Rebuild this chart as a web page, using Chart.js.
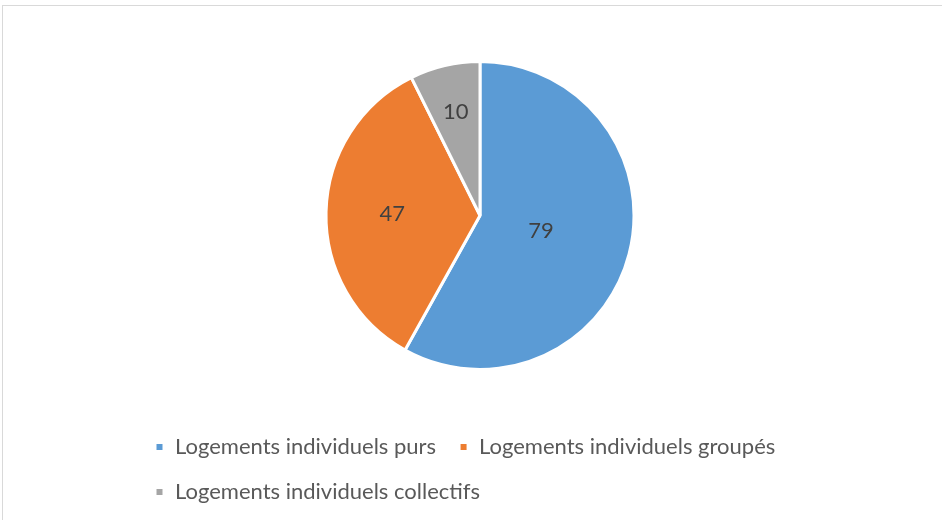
<!DOCTYPE html>
<html>
<head>
<meta charset="utf-8">
<script src="https://cdn.jsdelivr.net/npm/chart.js@4/dist/chart.umd.min.js"></script>
<style>
  html, body { margin: 0; padding: 0; background: #fff; }
  #frame {
    position: absolute; left: 2px; top: 5px; width: 960px; height: 540px;
    border-left: 1px solid #d9d9d9; border-top: 1px solid #d9d9d9;
  }
  #wrap { position: absolute; left: 0; top: 0; width: 942px; height: 520px; }
</style>
</head>
<body>
<div id="frame"></div>
<div id="wrap"><canvas id="pieLogements" width="942" height="520"></canvas></div>
<script>
var categories = ['Logements individuels purs', 'Logements individuels groupés', 'Logements individuels collectifs'];
var values = [79, 47, 10];
var colors = ['#5B9BD5', '#ED7D31', '#A5A5A5'];

// draws the value inside each slice, like Excel data labels
var sliceLabels = {
    id: 'sliceLabels',
    afterDatasetsDraw: function(chart, args, opts) {
        var ctx = chart.ctx;
        var meta = chart.getDatasetMeta(0);
        ctx.save();
        ctx.fillStyle = '#404040';
        ctx.font = '22px Lato, sans-serif';
        ctx.textAlign = 'center';
        ctx.textBaseline = 'middle';
        meta.data.forEach(function(arc, i) {
            var p = arc.getProps(['x', 'y', 'startAngle', 'endAngle', 'outerRadius'], true);
            var mid = (p.startAngle + p.endAngle) / 2;
            var d = p.outerRadius * opts.dist[i];
            ctx.fillText(chart.data.datasets[0].data[i], p.x + Math.cos(mid) * d, p.y + Math.sin(mid) * d);
        });
        ctx.restore();
    }
};

var ctx = document.getElementById('pieLogements').getContext('2d');
var pieLogements = new Chart(ctx, {
    type: 'pie',
    data: {
        labels: categories,
        datasets: [{
            data: values,
            backgroundColor: colors,
            borderColor: '#ffffff',
            borderWidth: 3,
            radius: 154
        }]
    },
    options: {
        responsive: false,
        animation: false,
        layout: {
            padding: { top: 18, left: 132, right: 114, bottom: 7 }
        },
        plugins: {
            legend: {
                position: 'bottom',
                align: 'start',
                labels: {
                    boxWidth: 9,
                    boxHeight: 9,
                    padding: 23,
                    color: '#595959',
                    font: { family: 'Lato', size: 22 }
                }
            },
            tooltip: { enabled: false },
            sliceLabels: { dist: [0.41, 0.57, 0.69] }
        }
    },
    plugins: [sliceLabels]
});
</script>
</body>
</html>
